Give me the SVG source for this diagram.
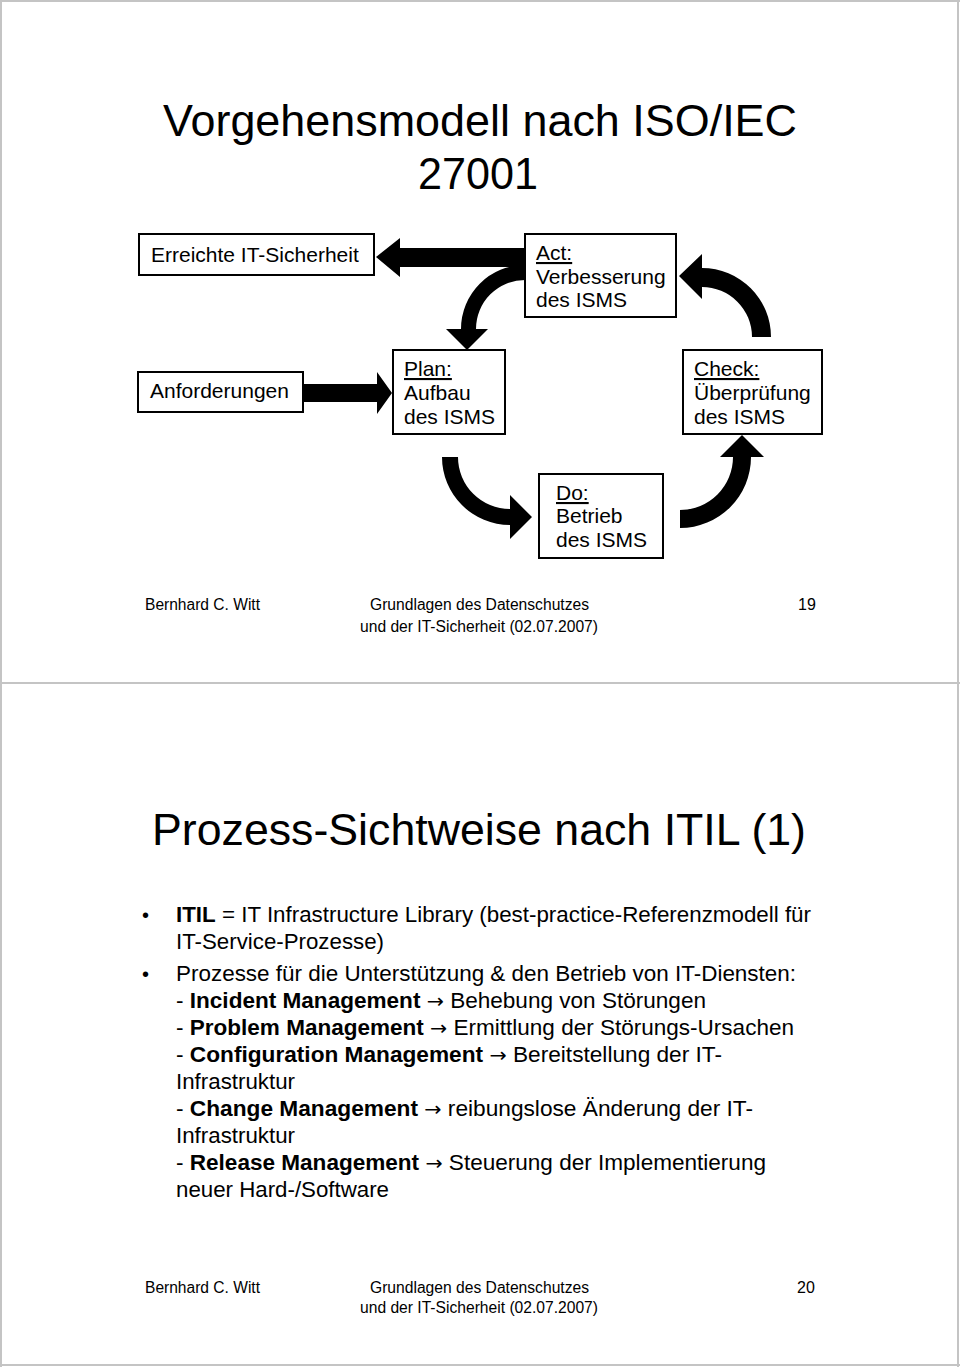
<svg xmlns="http://www.w3.org/2000/svg" width="960" height="1367" viewBox="0 0 960 1367">
<style>
text{font-family:"Liberation Sans",Arial,sans-serif;fill:#000}
.title{font-size:44.7px}
.box{fill:#fff;stroke:#000;stroke-width:2}
.bt{font-size:21px}
.ul{text-decoration:underline}
.ft{font-size:16px}
.body{font-size:22px}
.b{font-weight:bold}
.ar{font-family:"DejaVu Sans",sans-serif;font-weight:normal;font-size:20px}
.frame{stroke:#c4c4c4;stroke-width:2;fill:none}
.arr{fill:#000;stroke:none}
</style>
<rect width="960" height="1367" fill="#fff"/>
<g id="frame">
<line class="frame" x1="0" y1="1" x2="960" y2="1"/>
<line class="frame" x1="1" y1="0" x2="1" y2="1367"/>
<line class="frame" x1="958" y1="0" x2="958" y2="1367"/>
<line class="frame" x1="0" y1="683" x2="960" y2="683"/>
<line class="frame" x1="0" y1="1365" x2="960" y2="1365"/>
</g>
<g id="page1-title">
<text class="title" x="163" y="136" textLength="634" lengthAdjust="spacingAndGlyphs">Vorgehensmodell nach ISO/IEC</text>
<text class="title" x="418" y="189" textLength="120" lengthAdjust="spacingAndGlyphs">27001</text>
</g>
<g id="connectors">
<path class="arr" d="M524,248 L400,248 L400,238 L376,257 L400,277 L400,267 L524,267 Z"/>
<path class="arr" d="M525,265 A64,64 0 0 0 461,329 L446,329 L467,350 L488,329 L476,329 A49,49 0 0 1 525,280 Z"/>
<path class="arr" d="M771,337 A69,69 0 0 0 702,268 L702,254 L679,276 L702,299 L702,287 A50,50 0 0 1 752,337 Z"/>
<path class="arr" d="M442,457 A68,68 0 0 0 510,525 L510,539 L532,517 L510,495 L510,509 A52,52 0 0 1 458,457 Z"/>
<path class="arr" d="M680,528 A71,71 0 0 0 751,457 L764,457 L742,435 L720,457 L733,457 A53,53 0 0 1 680,510 Z"/>
<path class="arr" d="M303,384 L377,384 L377,372 L392,393 L377,414 L377,402 L303,402 Z"/>
</g>
<g id="node-erreichte">
<rect class="box" x="139" y="234" width="235" height="41"/>
<text class="bt" x="151" y="262">Erreichte IT-Sicherheit</text>
</g>
<g id="node-act">
<rect class="box" x="525" y="234" width="151" height="83"/>
<text class="bt" x="536" y="260"><tspan class="ul">Act:</tspan></text>
<text class="bt" x="536" y="284">Verbesserung</text>
<text class="bt" x="536" y="307">des ISMS</text>
</g>
<g id="node-anforderungen">
<rect class="box" x="138" y="372" width="165" height="40"/>
<text class="bt" x="150" y="398">Anforderungen</text>
</g>
<g id="node-plan">
<rect class="box" x="393" y="350" width="112" height="84"/>
<text class="bt" x="404" y="376"><tspan class="ul">Plan:</tspan></text>
<text class="bt" x="404" y="400">Aufbau</text>
<text class="bt" x="404" y="424">des ISMS</text>
</g>
<g id="node-check">
<rect class="box" x="683" y="350" width="139" height="84"/>
<text class="bt" x="694" y="376"><tspan class="ul">Check:</tspan></text>
<text class="bt" x="694" y="400">Überprüfung</text>
<text class="bt" x="694" y="424">des ISMS</text>
</g>
<g id="node-do">
<rect class="box" x="539" y="474" width="124" height="84"/>
<text class="bt" x="556" y="500"><tspan class="ul">Do:</tspan></text>
<text class="bt" x="556" y="523">Betrieb</text>
<text class="bt" x="556" y="547">des ISMS</text>
</g>
<g id="footer1">
<text class="ft" x="145" y="610" textLength="115" lengthAdjust="spacingAndGlyphs">Bernhard C. Witt</text>
<text class="ft" x="370" y="610" textLength="219" lengthAdjust="spacingAndGlyphs">Grundlagen des Datenschutzes</text>
<text class="ft" x="360" y="632" textLength="238" lengthAdjust="spacingAndGlyphs">und der IT-Sicherheit (02.07.2007)</text>
<text class="ft" x="798" y="610">19</text>
</g>
<g id="page2-title">
<text class="title" x="152" y="845" textLength="654" lengthAdjust="spacingAndGlyphs">Prozess-Sichtweise nach ITIL (1)</text>
</g>
<g id="body">
<text class="body" x="142" y="922" style="font-size:20px">•</text>
<text class="body" x="142" y="981" style="font-size:20px">•</text>
<text class="body" x="176" y="922" textLength="635" lengthAdjust="spacingAndGlyphs"><tspan class="b">ITIL</tspan> = IT Infrastructure Library (best-practice-Referenzmodell für</text>
<text class="body" x="176" y="949" textLength="208" lengthAdjust="spacingAndGlyphs">IT-Service-Prozesse)</text>
<text class="body" x="176" y="981" textLength="620" lengthAdjust="spacingAndGlyphs">Prozesse für die Unterstützung &amp; den Betrieb von IT-Diensten:</text>
<text class="body" x="176" y="1008" textLength="530" lengthAdjust="spacingAndGlyphs">- <tspan class="b">Incident Management</tspan> <tspan class="ar">→</tspan> Behebung von Störungen</text>
<text class="body" x="176" y="1035" textLength="618" lengthAdjust="spacingAndGlyphs">- <tspan class="b">Problem Management</tspan> <tspan class="ar">→</tspan> Ermittlung der Störungs-Ursachen</text>
<text class="body" x="176" y="1062" textLength="546" lengthAdjust="spacingAndGlyphs">- <tspan class="b">Configuration Management</tspan> <tspan class="ar">→</tspan> Bereitstellung der IT-</text>
<text class="body" x="176" y="1089" textLength="119" lengthAdjust="spacingAndGlyphs">Infrastruktur</text>
<text class="body" x="176" y="1116" textLength="577" lengthAdjust="spacingAndGlyphs">- <tspan class="b">Change Management</tspan> <tspan class="ar">→</tspan> reibungslose Änderung der IT-</text>
<text class="body" x="176" y="1143" textLength="119" lengthAdjust="spacingAndGlyphs">Infrastruktur</text>
<text class="body" x="176" y="1170" textLength="590" lengthAdjust="spacingAndGlyphs">- <tspan class="b">Release Management</tspan> <tspan class="ar">→</tspan> Steuerung der Implementierung</text>
<text class="body" x="176" y="1197" textLength="213" lengthAdjust="spacingAndGlyphs">neuer Hard-/Software</text>
</g>
<g id="footer2">
<text class="ft" x="145" y="1293" textLength="115" lengthAdjust="spacingAndGlyphs">Bernhard C. Witt</text>
<text class="ft" x="370" y="1293" textLength="219" lengthAdjust="spacingAndGlyphs">Grundlagen des Datenschutzes</text>
<text class="ft" x="360" y="1313" textLength="238" lengthAdjust="spacingAndGlyphs">und der IT-Sicherheit (02.07.2007)</text>
<text class="ft" x="797" y="1293">20</text>
</g>
</svg>
